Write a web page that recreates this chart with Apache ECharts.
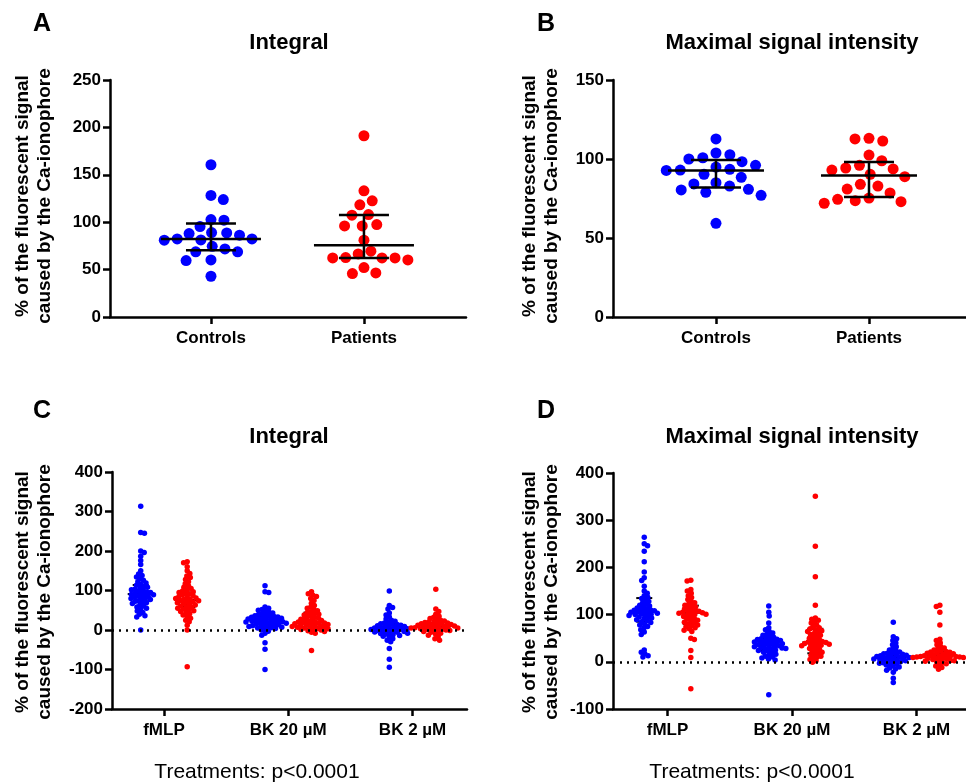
<!DOCTYPE html>
<html>
<head>
<meta charset="utf-8">
<script src="https://cdn.jsdelivr.net/npm/echarts@6/dist/echarts.min.js"></script>
<style>
html, body { margin: 0; padding: 0; background: #fff; }
#main { width: 966px; height: 782px; }
</style>
</head>
<body>
<div id="main"></div>
<script>
// A - integral, controls vs patients
var aCategories = ['Controls', 'Patients'];
var aControls = [160.6, 128.2, 123.9, 102.8, 102.1, 95.4, 88.7, 89.1, 88.0, 82.4, 81.3, 82.4, 81.0, 86.3, 74.6, 71.8, 68.7, 68.7, 60.2, 59.5, 43.0];
var aPatients = [191.2, 133.1, 122.5, 118.3, 107.4, 108.1, 96.1, 96.1, 97.5, 81.0, 69.4, 66.5, 62.7, 60.2, 62.3, 62.3, 62.3, 52.1, 45.8, 46.5];
var aMedian = [82.4, 75.7];
var aQ1 = [70.4, 62.3];
var aQ3 = [98.6, 107.7];

// B - maximal signal intensity
var bCategories = ['Controls', 'Patients'];
var bControls = [112.7, 100.8, 100.0, 98.3, 103.8, 102.7, 93.5, 92.8, 96.0, 94.9, 93.0, 90.3, 88.4, 85.0, 82.9, 84.2, 78.9, 77.0, 80.8, 80.4, 59.3];
var bPatients = [113.1, 112.7, 111.4, 102.5, 93.7, 96.0, 93.0, 94.3, 88.8, 73.0, 81.0, 82.9, 84.0, 75.3, 73.6, 74.5, 98.9, 90.3, 78.5, 72.0];
var bMedian = [92.8, 89.5];
var bQ1 = [81.9, 75.9];
var bQ3 = [99.4, 98.1];

// C - integral per treatment
var cCategories = ['fMLP', 'BK 20 µM', 'BK 2 µM'];
var cFmlpControls = [313, 247, 245, 200, 196, 187, 176, 166, 150, 142, 138, 134, 130, 126, 122, 119, 116, 113, 110, 108, 106, 104, 102, 100, 98, 96, 95, 93, 92, 90, 89, 88, 86, 85, 83, 82, 80, 78, 77, 75, 73, 71, 69, 67, 64, 61, 58, 55, 52, 48, 44, 40, 36, 33, 0];
var cFmlpPatients = [173, 170, 160, 150, 143, 137, 133, 128, 122, 117, 112, 108, 105, 102, 99, 97, 95, 93, 91, 89, 87, 85, 83, 81, 80, 78, 77, 75, 74, 72, 71, 69, 67, 65, 63, 61, 59, 57, 55, 53, 51, 49, 47, 44, 41, 38, 34, 30, 25, 21, 12, 0, -93];
var cBk20Controls = [112, 97, 95, 58, 55, 52, 50, 47, 45, 43, 41, 39, 37, 36, 35, 34, 33, 32, 31, 30, 29, 28, 27, 26, 25, 24, 23, 22, 21, 21, 20, 19, 18, 17, 16, 15, 14, 13, 12, 11, 10, 9, 8, 7, 6, 5, 4, 2, 0, -3, -8, -13, -32, -49, -100];
var cBk20Patients = [97, 92, 88, 85, 80, 75, 68, 62, 58, 55, 52, 49, 46, 44, 42, 40, 38, 36, 34, 32, 30, 28, 27, 25, 24, 22, 21, 20, 19, 18, 17, 16, 15, 14, 13, 12, 11, 10, 9, 8, 7, 6, 5, 4, 3, 2, 1, 0, -2, -4, -6, -8, -52];
var cBk2Controls = [99, 62, 57, 53, 43, 38, 33, 28, 25, 22, 20, 18, 16, 15, 14, 12, 11, 10, 9, 8, 7, 6, 5, 4, 3, 3, 2, 1, 0, -1, -2, -3, -4, -5, -6, -7, -8, -9, -10, -12, -14, -16, -18, -22, -26, -30, -47, -74, -94];
var cBk2Patients = [103, 53, 47, 40, 35, 32, 29, 27, 25, 23, 21, 20, 19, 18, 17, 16, 15, 14, 13, 12, 11, 10, 10, 9, 8, 8, 7, 6, 5, 5, 4, 3, 2, 1, 0, 0, -1, -2, -4, -6, -8, -10, -13, -17, -22, -26];
var cMedianControls = [91, 21, 3];
var cQ1Controls = [72, 8, -8];
var cQ3Controls = [114, 35, 15];
var cMedianPatients = [76, 19, 8];
var cQ1Patients = [58, 4, 1];
var cQ3Patients = [95, 44, 18];

// D - maximal signal intensity per treatment
var dCategories = ['fMLP', 'BK 20 µM', 'BK 2 µM'];
var dFmlpControls = [264, 250, 246, 234, 212, 190, 178, 172, 160, 150, 145, 140, 137, 134, 131, 128, 125, 122, 120, 118, 116, 114, 112, 111, 110, 109, 108, 107, 106, 105, 104, 103, 102, 101, 100, 99, 98, 96, 95, 93, 91, 89, 87, 85, 83, 80, 78, 75, 72, 68, 63, 58, 25, 20, 17, 13, 10];
var dFmlpPatients = [173, 171, 153, 150, 145, 140, 136, 132, 128, 125, 122, 120, 118, 116, 114, 112, 110, 108, 107, 106, 105, 104, 103, 102, 101, 100, 98, 96, 94, 92, 90, 88, 86, 84, 82, 80, 78, 76, 74, 72, 70, 67, 64, 50, 47, 24, 9, -57];
var dBk20Controls = [118, 105, 97, 82, 72, 68, 64, 61, 58, 56, 54, 52, 50, 49, 48, 47, 46, 45, 44, 43, 42, 41, 40, 39, 38, 37, 36, 35, 34, 33, 32, 31, 30, 29, 28, 27, 26, 25, 24, 22, 20, 18, 16, 14, 12, 10, 8, 6, 4, -70];
var dBk20Patients = [351, 245, 180, 120, 93, 90, 88, 85, 82, 78, 75, 72, 70, 68, 66, 64, 62, 60, 58, 56, 54, 52, 50, 48, 46, 44, 43, 42, 41, 40, 39, 38, 37, 36, 35, 34, 32, 30, 28, 26, 24, 22, 20, 18, 16, 14, 12, 10, 8, 5, 2, -1];
var dBk2Controls = [84, 53, 49, 45, 40, 36, 32, 28, 25, 23, 21, 19, 18, 17, 16, 15, 14, 13, 12, 11, 10, 9, 9, 8, 8, 7, 6, 5, 4, 3, 2, 1, 0, -1, -2, -3, -4, -5, -7, -9, -11, -13, -15, -18, -22, -35, -44];
var dBk2Patients = [120, 117, 105, 78, 48, 45, 40, 36, 32, 29, 27, 25, 23, 22, 21, 20, 19, 18, 17, 16, 15, 14, 13, 13, 12, 12, 11, 11, 10, 10, 9, 9, 8, 8, 7, 6, 5, 4, 3, 2, 1, 0, -2, -4, -6, -9, -12, -16];
var dMedianControls = [106, 36, 8];
var dQ1Controls = [85, 25, -3];
var dQ3Controls = [135, 50, 20];
var dMedianPatients = [104, 41, 12];
var dQ1Patients = [80, 18, 5];
var dQ3Patients = [119, 70, 22];

var BLUE = '#0000ff';
var RED = '#ff0000';
var FONT = '"Liberation Sans", Arial, sans-serif';
var YNAME = '% of the fluorescent signal\ncaused by the Ca-ionophore';

var chart = echarts.init(document.getElementById('main'));

function xAxisCfg(grid, min, max, cats) {
    var vals = cats.map(function (c, i) { return i + 1; });
    return {
        type: 'value', gridIndex: grid, min: min, max: max,
        splitLine: {show: false},
        axisLine: {onZero: false, lineStyle: {color: '#000', width: 2.5}},
        axisTick: {customValues: vals, length: 7, lineStyle: {color: '#000', width: 2.5}},
        axisLabel: {
            customValues: vals,
            formatter: function (v) { return cats[Math.round(v) - 1]; },
            color: '#000', fontSize: 17, fontWeight: 'bold', fontFamily: FONT, margin: 13
        }
    };
}

function yAxisCfg(grid, min, max, step) {
    return {
        type: 'value', gridIndex: grid, min: min, max: max, interval: step,
        splitLine: {show: false},
        axisLine: {show: true, onZero: false, lineStyle: {color: '#000', width: 2.5}},
        axisTick: {show: true, length: 7, lineStyle: {color: '#000', width: 2.5}},
        axisLabel: {color: '#000', fontSize: 17, fontWeight: 'bold', fontFamily: FONT, margin: 9}
    };
}

function label(x, y, text, size, weight, extra) {
    var st = {
        text: text, x: 0, y: 0, fill: '#000',
        font: weight + ' ' + size + 'px ' + FONT,
        textAlign: 'center', textVerticalAlign: 'middle'
    };
    for (var k in extra || {}) st[k] = extra[k];
    return {type: 'text', x: x, y: y, style: st};
}

function yName(x, y) {
    var t = label(x, y, YNAME, 19, 'bold', {lineHeight: 22});
    t.rotation = Math.PI / 2;
    return t;
}

var base = {
    animation: false,
    backgroundColor: '#fff',
    grid: [
        {left: 110, top: 80, width: 356, height: 237, outerBoundsMode: 'none'},
        {left: 613, top: 80, width: 353, height: 237, outerBoundsMode: 'none'},
        {left: 112, top: 472, width: 355, height: 237, outerBoundsMode: 'none'},
        {left: 613, top: 473, width: 353, height: 236, outerBoundsMode: 'none'}
    ],
    xAxis: [
        xAxisCfg(0, 0.34, 2.667, aCategories),
        xAxisCfg(1, 0.327, 2.634, bCategories),
        xAxisCfg(2, 0.582, 3.438, cCategories),
        xAxisCfg(3, 0.562, 3.397, dCategories)
    ],
    yAxis: [
        yAxisCfg(0, 0, 250, 50),
        yAxisCfg(1, 0, 150, 50),
        yAxisCfg(2, -200, 400, 100),
        yAxisCfg(3, -100, 400, 100)
    ],
    graphic: [
        label(42, 24, 'A', 25, 'bold'),
        label(546, 24, 'B', 25, 'bold'),
        label(42, 411, 'C', 25, 'bold'),
        label(546, 411, 'D', 25, 'bold'),
        label(289, 43, 'Integral', 22, 'bold'),
        label(792, 43, 'Maximal signal intensity', 22, 'bold'),
        label(289, 437, 'Integral', 22, 'bold'),
        label(792, 437, 'Maximal signal intensity', 22, 'bold'),
        yName(34, 196),
        yName(541, 196),
        yName(34, 592),
        yName(541, 592),
        label(257, 772, 'Treatments: p<0.0001', 21, 'normal'),
        label(752, 772, 'Treatments: p<0.0001', 21, 'normal')
    ],
    series: []
};
chart.setOption(base);

// simple beeswarm: each point goes as close to the centre as it can without overlapping
function swarm(ys, d) {
    var idx = ys.map(function (y, i) { return i; });
    idx.sort(function (a, b) { return ys[a] - ys[b]; });
    var placed = [], out = [];
    idx.forEach(function (i, k) {
        var y = ys[i];
        var near = placed.filter(function (p) { return Math.abs(p.y - y) < d; });
        var cands = [0];
        near.forEach(function (p) {
            var h = Math.sqrt(d * d - (p.y - y) * (p.y - y));
            cands.push(p.x + h, p.x - h);
        });
        var sgn = k % 2 ? 1 : -1;
        cands.sort(function (a, b) { return (Math.abs(a) - Math.abs(b)) || sgn * (a - b); });
        var x = 0;
        for (var c = 0; c < cands.length; c++) {
            var cx = cands[c];
            var ok = near.every(function (p) {
                return (p.x - cx) * (p.x - cx) + (p.y - y) * (p.y - y) >= d * d - 0.01;
            });
            if (ok) { x = cx; break; }
        }
        placed.push({x: x, y: y});
        out[i] = x;
    });
    return out;
}

function groupPoints(grid, xc, vals, d) {
    var f = {gridIndex: grid};
    var cpx = chart.convertToPixel(f, [xc, 0])[0];
    var ys = vals.map(function (v) { return chart.convertToPixel(f, [xc, v])[1]; });
    var dx = swarm(ys, d);
    return vals.map(function (v, i) {
        return [chart.convertFromPixel(f, [cpx + dx[i], ys[i]])[0], v];
    });
}

function scatter(grid, data, color, size) {
    return {
        type: 'scatter', xAxisIndex: grid, yAxisIndex: grid, data: data,
        symbolSize: size, itemStyle: {color: color, opacity: 1}, z: 2, silent: true
    };
}

function bars(grid, data, mw, cw, lw, z) {
    return {
        type: 'custom', xAxisIndex: grid, yAxisIndex: grid, data: data, z: z, silent: true,
        renderItem: function (params, api) {
            var x = api.value(0);
            var m = api.coord([x, api.value(1)]);
            var lo = api.coord([x, api.value(2)]);
            var hi = api.coord([x, api.value(3)]);
            var st = {stroke: '#000', lineWidth: lw};
            return {type: 'group', children: [
                {type: 'line', shape: {x1: m[0] - mw, y1: m[1], x2: m[0] + mw, y2: m[1]}, style: st},
                {type: 'line', shape: {x1: lo[0] - cw, y1: lo[1], x2: lo[0] + cw, y2: lo[1]}, style: st},
                {type: 'line', shape: {x1: hi[0] - cw, y1: hi[1], x2: hi[0] + cw, y2: hi[1]}, style: st},
                {type: 'line', shape: {x1: m[0], y1: lo[1], x2: m[0], y2: hi[1]}, style: st}
            ]};
        }
    };
}

function zeroLine(grid) {
    return {
        type: 'line', xAxisIndex: grid, yAxisIndex: grid, data: [], z: 1, silent: true,
        markLine: {
            silent: true, symbol: 'none', label: {show: false},
            lineStyle: {color: '#000', width: 2.5, type: [2, 5]},
            data: [{yAxis: 0}]
        }
    };
}

function summary(xs, med, q1, q3) {
    return xs.map(function (x, i) { return [x, med[i], q1[i], q3[i]]; });
}

var off = 0.187;
var gap = 3.8;
var series = [];

// A
series.push(scatter(0, groupPoints(0, 1, aControls, 13), BLUE, 11));
series.push(scatter(0, groupPoints(0, 2, aPatients, 13), RED, 11));
series.push(bars(0, summary([1, 2], aMedian, aQ1, aQ3), 50, 25, 2.5, 3));

// B
series.push(scatter(1, groupPoints(1, 1, bControls, 14), BLUE, 11));
series.push(scatter(1, groupPoints(1, 2, bPatients, 14), RED, 11));
series.push(bars(1, summary([1, 2], bMedian, bQ1, bQ3), 48, 25, 2.5, 3));

// C
series.push(zeroLine(2));
series.push(bars(2, summary([1 - off, 2 - off, 3 - off], cMedianControls, cQ1Controls, cQ3Controls), 13, 8, 2, 1));
series.push(bars(2, summary([1 + off, 2 + off, 3 + off], cMedianPatients, cQ1Patients, cQ3Patients), 13, 8, 2, 1));
series.push(scatter(2, [].concat(
    groupPoints(2, 1 - off, cFmlpControls, gap),
    groupPoints(2, 2 - off, cBk20Controls, gap),
    groupPoints(2, 3 - off, cBk2Controls, gap)), BLUE, 5.5));
series.push(scatter(2, [].concat(
    groupPoints(2, 1 + off, cFmlpPatients, gap),
    groupPoints(2, 2 + off, cBk20Patients, gap),
    groupPoints(2, 3 + off, cBk2Patients, gap)), RED, 5.5));

// D
series.push(zeroLine(3));
series.push(bars(3, summary([1 - off, 2 - off, 3 - off], dMedianControls, dQ1Controls, dQ3Controls), 13, 8, 2, 1));
series.push(bars(3, summary([1 + off, 2 + off, 3 + off], dMedianPatients, dQ1Patients, dQ3Patients), 13, 8, 2, 1));
series.push(scatter(3, [].concat(
    groupPoints(3, 1 - off, dFmlpControls, gap),
    groupPoints(3, 2 - off, dBk20Controls, gap),
    groupPoints(3, 3 - off, dBk2Controls, gap)), BLUE, 5.5));
series.push(scatter(3, [].concat(
    groupPoints(3, 1 + off, dFmlpPatients, gap),
    groupPoints(3, 2 + off, dBk20Patients, gap),
    groupPoints(3, 3 + off, dBk2Patients, gap)), RED, 5.5));

chart.setOption({series: series});
</script>
</body>
</html>
